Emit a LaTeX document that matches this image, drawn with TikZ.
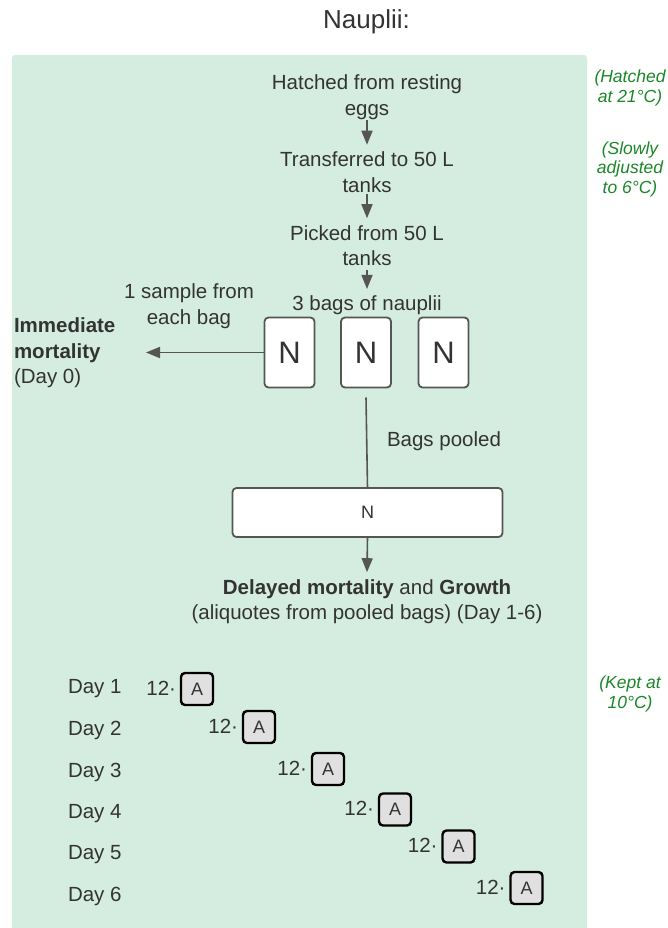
\documentclass[tikz,border=0pt]{standalone}
\usepackage{fontspec}
\setmainfont{Liberation Sans}
\usetikzlibrary{arrows.meta}
\definecolor{panel}{RGB}{213,237,224}
\definecolor{txt}{RGB}{51,51,51}
\definecolor{grn}{RGB}{26,135,40}
\definecolor{ln}{RGB}{85,85,85}
\definecolor{agray}{RGB}{224,224,224}
\begin{document}
\begin{tikzpicture}[x=1pt,y=-1pt,
  every node/.style={inner sep=0pt, outer sep=0pt, text=txt},
  main/.style={font=\fontsize{20.5}{25.5}\selectfont, align=center},
  note/.style={font=\fontsize{17.5}{19.5}\selectfont\itshape, text=grn, align=center},
  bag/.style={draw=ln, line width=1.8pt, fill=white, rounded corners=4pt,
    minimum width=50pt, minimum height=70pt, font=\fontsize{31}{31}\selectfont},
  bigbag/.style={draw=ln, line width=1.8pt, fill=white, rounded corners=4pt,
    minimum width=270pt, minimum height=49pt, font=\fontsize{18}{18}\selectfont},
  abox/.style={draw=black, line width=2.4pt, fill=agray, rounded corners=4pt,
    minimum width=32pt, minimum height=32pt, font=\fontsize{18}{18}\selectfont},
  arr/.style={draw=ln, line width=1.6pt, -{Triangle[length=14pt,width=11pt]}},
  plain/.style={draw=ln, line width=1.6pt},
]
\useasboundingbox (0,0) rectangle (668,928);
\fill[panel] (12,928) [rounded corners=3pt] -- (12,55) -- (587,55) [sharp corners] -- (587,928) -- cycle;

\node[main, font=\fontsize{26}{30}\selectfont] (title) at (366.5,22) {Nauplii:};

\node[main] (h1) at (367,97) {Hatched from resting\\eggs};
\node[main] (h2) at (367,172) {Transferred to 50 L\\tanks};
\node[main] (h3) at (367,245.5) {Picked from 50 L\\tanks};
\node[main] (h4) at (367,305.5) {3 bags of nauplii};

\draw[arr] ([yshift=-1pt]h1.south) -- ([yshift=7pt]h2.north);
\draw[arr] ([yshift=-2pt]h2.south) -- ([yshift=7pt]h3.north);
\draw[arr] ([yshift=-4pt]h3.south) -- ([yshift=7pt]h4.north);

\node[bag] (b1) at (289.5,352.5) {N};
\node[bag] (b2) at (366,352.5) {N};
\node[bag] (b3) at (443.5,352.5) {N};

\node[main, align=left, anchor=west] (imm) at (14,353) {\textbf{Immediate}\\\textbf{mortality}\\(Day 0)};
\node[main] (samp) at (189,306) {1 sample from\\each bag};
\coordinate (tip0) at (146,352.5);
\draw[arr] (b1.west) -- (tip0);

\node[bigbag] (big) at (367.5,512.5) {N};
\node[main, anchor=west] (pool) at (387,441) {Bags pooled};
\draw[plain] ([yshift=-10pt]b2.south) -- (big.north);

\node[main] (del) at (367,601.5) {\textbf{Delayed mortality} and \textbf{Growth}\\(aliquotes from pooled bags) (Day 1-6)};
\draw[arr] (big.south) -- ([yshift=7pt]del.north);

\foreach \i/\y in {1/689,2/730,3/772,4/814,5/855,6/896}{
  \node[main, anchor=west] (d\i) at (68,\y) {Day \i};
}
\foreach \i/\x/\y in {1/197/689,2/259/727,3/328/769,4/395/809.5,5/458.5/846.5,6/526.5/888}{
  \node[abox] (a\i) at (\x,\y) {A};
  \node[main, anchor=east] (n\i) at ([xshift=-5pt,yshift=1pt]a\i.west) {12·};
}

\node[note] (g1) at (630,88) {(Hatched\\at 21°C)};
\node[note] (g2) at (630,169) {(Slowly\\adjusted\\to 6°C)};
\node[note] (g3) at (630,694) {(Kept at\\10°C)};
\end{tikzpicture}
\end{document}
